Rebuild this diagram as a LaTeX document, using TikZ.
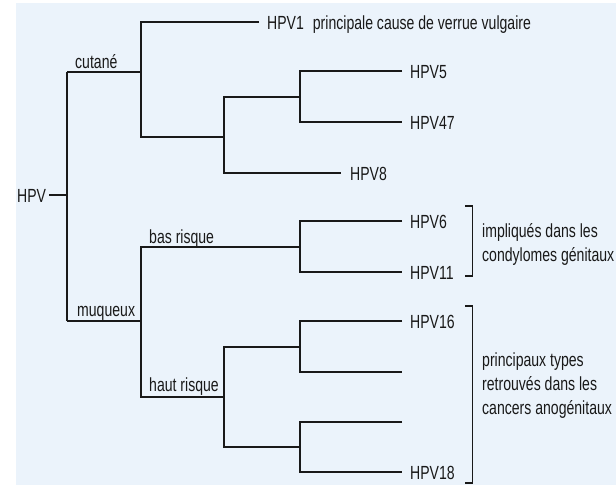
\documentclass[tikz,border=0pt]{standalone}
\usepackage{fontspec}
\setmainfont{Liberation Sans}[FakeStretch=0.74]
\definecolor{bg}{RGB}{235,243,251}
\definecolor{ink}{RGB}{25,25,25}
\begin{document}
\begin{tikzpicture}[x=1pt,y=-1pt,
 lbl/.style={anchor=base west, inner sep=0pt, font=\fontsize{19}{24}\selectfont, text=ink},
 tree/.style={draw=ink, line width=1.3pt}]
\useasboundingbox (0,0) rectangle (616,485);
\fill[bg] (16,3) rectangle (616,485);
% junctions and leaf ends
\coordinate (root) at (67,195);
\coordinate (cut) at (67,72);
\coordinate (muq) at (67,321);
\coordinate (cA) at (141,72);
\coordinate (hpv1) at (259,22);
\coordinate (cB) at (224,137);
\coordinate (cC) at (300,97);
\coordinate (hpv5) at (402,71);
\coordinate (hpv47) at (402,122);
\coordinate (hpv8) at (341,173);
\coordinate (mA) at (141,321);
\coordinate (bas) at (300,247);
\coordinate (hpv6) at (402,221);
\coordinate (hpv11) at (402,272);
\coordinate (haut) at (224,397);
\coordinate (hA) at (300,347);
\coordinate (hB) at (300,447);
\coordinate (hpv16) at (402,321);
\coordinate (l2) at (402,372);
\coordinate (l3) at (402,422);
\coordinate (hpv18) at (402,472);
% tree
\node[lbl] (hpv) at (17,202) {HPV};
\draw[tree] ([xshift=3pt]hpv.east |- root) -- (root);
\draw[tree] (cut) -- (muq);
\draw[tree] (cut) -- (cA);
\draw[tree] (hpv1) -| (cA) |- (cB);
\draw[tree] (cC) -| (cB) |- (hpv8);
\draw[tree] (hpv5) -| (cC) |- (hpv47);
\draw[tree] (muq) -- (mA);
\draw[tree] (bas) -| (mA) |- (haut);
\draw[tree] (hpv6) -| (bas) |- (hpv11);
\draw[tree] (hA) -| (haut) |- (hB);
\draw[tree] (hpv16) -| (hA) |- (l2);
\draw[tree] (l3) -| (hB) |- (hpv18);
% branch labels
\node[lbl] (lcut) at (75,68.5) {cutané};
\node[lbl] (lmuq) at (77,316.5) {muqueux};
\node[lbl] (lbas) at (149,243.5) {bas risque};
\node[lbl] (lhaut) at (149,391.5) {haut risque};
% leaf labels
\node[lbl] (t1) at (267,29) {HPV1\hspace{9pt}principale cause de verrue vulgaire};
\node[lbl] (t5) at (410,78.5) {HPV5};
\node[lbl] (t47) at (410,129.5) {HPV47};
\node[lbl] (t8) at (350,180.5) {HPV8};
\node[lbl] (t6) at (410,228.5) {HPV6};
\node[lbl] (t11) at (410,279.5) {HPV11};
\node[lbl] (t16) at (410,328.5) {HPV16};
\node[lbl] (t18) at (410,479.5) {HPV18};
% brackets
\coordinate (b1t) at (472.5,206);
\coordinate (b1b) at (472.5,276);
\coordinate (b2t) at (472.5,306);
\coordinate (b2b) at (472.5,483);
\draw[tree] ([xshift=-7.5pt]b1t) -- (b1t) -- (b1b) -- ([xshift=-7.5pt]b1b);
\draw[tree] ([xshift=-7.5pt]b2t) -- (b2t) -- (b2b) -- ([xshift=-7.5pt]b2b);
\node[lbl, align=left] (g1) at (482,261) {impliqués dans les\\condylomes génitaux};
\node[lbl, align=left] (g2) at (482,414) {principaux types\\retrouvés dans les\\cancers anogénitaux};
\end{tikzpicture}
\end{document}
